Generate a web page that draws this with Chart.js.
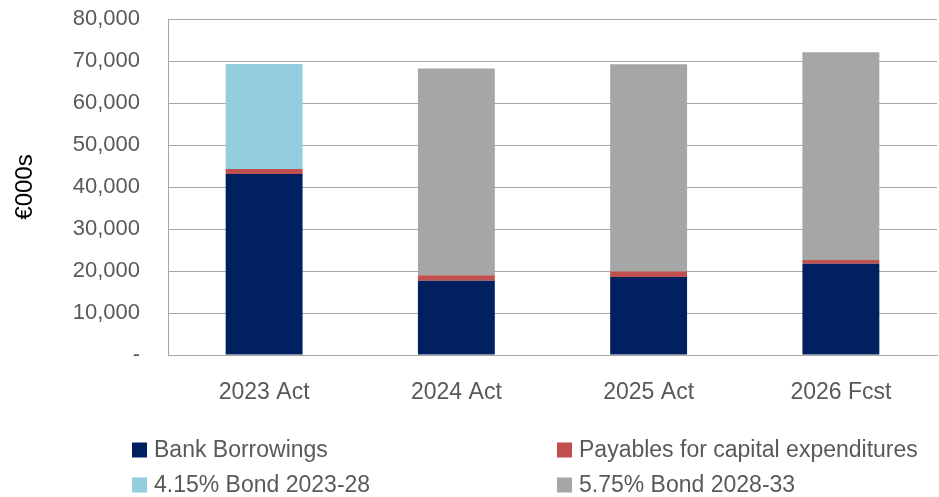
<!DOCTYPE html>
<html>
<head>
<meta charset="utf-8">
<script src="https://cdn.jsdelivr.net/npm/chart.js@4/dist/chart.umd.min.js"></script>
<style>
  html, body { margin:0; padding:0; background:#fff; }
  #wrap { width:939px; height:497px; position:relative; }
</style>
</head>
<body>
<div id="wrap"><canvas id="debtChart"></canvas></div>
<script>
// ===============================
// DATA (€000s)
// ===============================
const years      = ["2023 Act", "2024 Act", "2025 Act", "2026 Fcst"];
const bankBorrow = [43100, 17700, 18600, 21700];
const payables   = [1200, 1300, 1300, 900];
const bond2328   = [25000, 0, 0, 0];
const bond2833   = [0, 49200, 49300, 49500];

const seriesNames = [
  "Bank Borrowings",
  "Payables for capital expenditures",
  "4.15% Bond 2023-28",
  "5.75% Bond 2028-33"
];

const FONT = "'Liberation Sans', Arial, sans-serif";
const GREY_TXT = '#595959';

// legend in 2 columns, drawn under the chart
const gridLegend = {
  id:'gridLegend',
  afterDraw(chart){
    const ctx = chart.ctx;
    const cols = [132, 557];
    const rows = [450, 485];
    ctx.save();
    ctx.font = '23px ' + FONT;
    ctx.textBaseline = 'middle';
    chart.data.datasets.forEach((ds, i) => {
      const x = cols[i % 2];
      const y = rows[Math.floor(i / 2)];
      ctx.fillStyle = ds.backgroundColor;
      ctx.fillRect(x, y - 7.5, 15, 15);
      ctx.fillStyle = GREY_TXT;
      ctx.fillText(ds.label, x + 22, y + 1);
    });
    ctx.restore();
  }
};

new Chart(document.getElementById("debtChart"), {
  type:'bar',
  data:{
    labels: years,
    datasets:[
      { label: seriesNames[0], data: bankBorrow, backgroundColor:'#002060' },
      { label: seriesNames[1], data: payables,   backgroundColor:'#C0504D' },
      { label: seriesNames[2], data: bond2328,   backgroundColor:'#93CDDD' },
      { label: seriesNames[3], data: bond2833,   backgroundColor:'#A6A6A6' }
    ]
  },
  options:{
    responsive:true,
    maintainAspectRatio:false,
    animation:false,
    layout:{ padding:{ top:0, right:2, bottom:82, left:0 } },
    datasets:{
      bar:{ categoryPercentage:1, barPercentage:0.4, borderWidth:0 }
    },
    plugins:{
      legend:{ display:false },
      tooltip:{ enabled:false }
    },
    scales:{
      x:{
        stacked:true,
        grid:{ display:false, drawTicks:false },
        border:{ display:true, color:'#A6A6A6', width:1 },
        ticks:{ color:GREY_TXT, font:{ family:FONT, size:23 }, padding:24 },
        afterFit(scale){ scale.height = 60; }
      },
      y:{
        stacked:true,
        min:0, max:80000,
        ticks:{
          stepSize:10000,
          color:GREY_TXT,
          font:{ family:FONT, size:22 },
          padding:28,
          callback: v => v === 0 ? '-' : v.toLocaleString('en-US')
        },
        grid:{ color:'#A6A6A6', lineWidth:1, drawTicks:false },
        border:{ display:true, color:'#A6A6A6', width:1 },
        title:{
          display:true,
          text:'€000s',
          color:'#000',
          font:{ family:FONT, size:24 },
          padding:{ top:11, bottom:0 }
        },
        afterFit(scale){
          scale.width = 168;
          // tick padding would otherwise push the plot down
          scale.paddingTop = 19;
          scale.paddingBottom = 0;
        }
      }
    }
  },
  plugins:[gridLegend]
});
</script>
</body>
</html>
